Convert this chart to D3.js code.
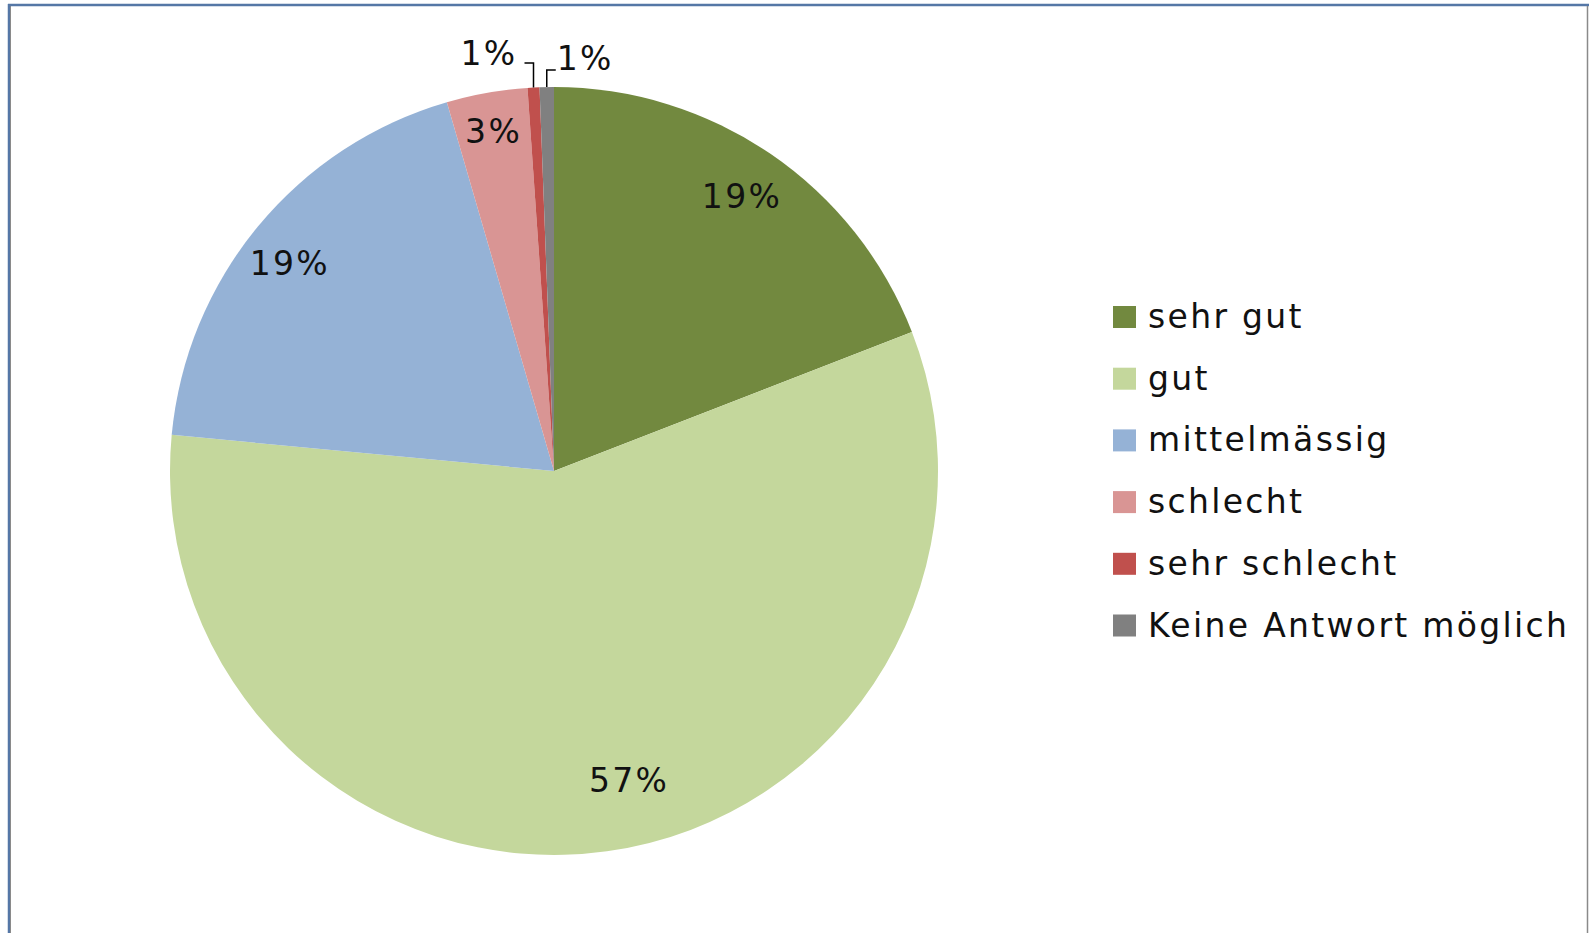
<!DOCTYPE html>
<html><head><meta charset="utf-8">
<script src="https://cdn.jsdelivr.net/npm/d3@7"></script>
<style>
html,body{margin:0;padding:0;background:#fff;}
svg{display:block;}
text{font-family:"DejaVu Sans",sans-serif;fill:#111;}
</style></head>
<body>
<svg id="chart" width="1589" height="933"></svg>
<script>
// ---- data ----
const categories = ["sehr gut","gut","mittelmässig","schlecht","sehr schlecht","Keine Antwort möglich"];
const values = [19.1, 57.4, 19.0, 3.4, 0.5, 0.6];
const colors = ["#72893f","#c4d79c","#95b2d6","#d99594","#c0504d","#808080"];

// ---- layout ----
const W = 1589, H = 933;
const cx = 554, cy = 471, R = 384;
const labelR = 333;
const labelTweak = {
  "gut": {r: 318, dAngle: -0.10},
  "mittelmässig": {r: 336, dAngle: -0.025},
  "schlecht": {r: 345, dAngle: 0}
};
const leaderTweak = {
  "sehr schlecht": {rise: 24, dir: -1},
  "Keine Antwort möglich": {rise: 17, dir: 1}
};
const fontSize = 33;
const legendTargetWidth = 419;

const svg = d3.select("#chart");

// border
svg.append("line").attr("x1",9).attr("y1",4).attr("x2",9).attr("y2",H)
  .attr("stroke","#5577a6").attr("stroke-width",2.5);
svg.append("line").attr("x1",10.5).attr("y1",6).attr("x2",10.5).attr("y2",H)
  .attr("stroke","#8a8a8a").attr("stroke-width",1);
svg.append("line").attr("x1",8).attr("y1",5).attr("x2",1589).attr("y2",5)
  .attr("stroke","#5577a6").attr("stroke-width",2.5);
svg.append("line").attr("x1",1587.5).attr("y1",6).attr("x2",1587.5).attr("y2",H)
  .attr("stroke","#8a8a8a").attr("stroke-width",1.5);

// letter spacing so the longest legend entry matches the reference width
const probe = svg.append("text").attr("font-size",fontSize).text(categories[5]);
const w0 = probe.node().getComputedTextLength();
probe.remove();
const ls = Math.max(0, (legendTargetWidth - w0) / (categories[5].length - 1));

const pie = d3.pie().sort(null).value(d => d.v);
const data = categories.map((c,i) => ({c, v: values[i], col: colors[i]}));
const arcs = pie(data);
const arc = d3.arc().innerRadius(0).outerRadius(R);

const g = svg.append("g").attr("transform",`translate(${cx},${cy})`);
g.selectAll("path.slice").data(arcs).join("path")
  .attr("class","slice")
  .attr("d", arc)
  .attr("fill", d => d.data.col);

const fmt = v => Math.round(v) + "%";

arcs.forEach(a => {
  const mid = (a.startAngle + a.endAngle)/2;
  const name = a.data.c;
  if (leaderTweak[name]) {
    const t = leaderTweak[name];
    const x0 = R*Math.sin(mid), y0 = -R*Math.cos(mid);
    const ey = -R - t.rise;
    const ex = x0 + t.dir*9;
    g.append("path")
      .attr("d", `M${x0},${y0}V${ey}H${ex}`)
      .attr("fill","none").attr("stroke","#000").attr("stroke-width",1.5);
    g.append("text")
      .attr("x", t.dir < 0 ? ex - 7 : ex + 1)
      .attr("y", t.dir < 0 ? ey + 2 : ey)
      .attr("text-anchor", t.dir < 0 ? "end" : "start")
      .attr("font-size", fontSize)
      .attr("letter-spacing", ls)
      .text(fmt(a.data.v));
  } else {
    const tw = labelTweak[name] || {r: labelR, dAngle: 0};
    const ang = mid + tw.dAngle;
    g.append("text")
      .attr("x", tw.r*Math.sin(ang))
      .attr("y", -tw.r*Math.cos(ang))
      .attr("text-anchor","middle")
      .attr("dominant-baseline","central")
      .attr("font-size", fontSize)
      .attr("letter-spacing", ls)
      .text(fmt(a.data.v));
  }
});

// legend
const lg = svg.append("g").attr("transform","translate(1113,306)");
const rowH = 61.7;
const items = lg.selectAll("g").data(data).join("g")
  .attr("transform",(d,i)=>`translate(0,${i*rowH})`);
items.append("rect").attr("width",23).attr("height",22).attr("fill",d=>d.col);
items.append("text").attr("x",35).attr("y",22)
  .attr("font-size",fontSize).attr("letter-spacing", ls).text(d=>d.c);
</script>
</body></html>
